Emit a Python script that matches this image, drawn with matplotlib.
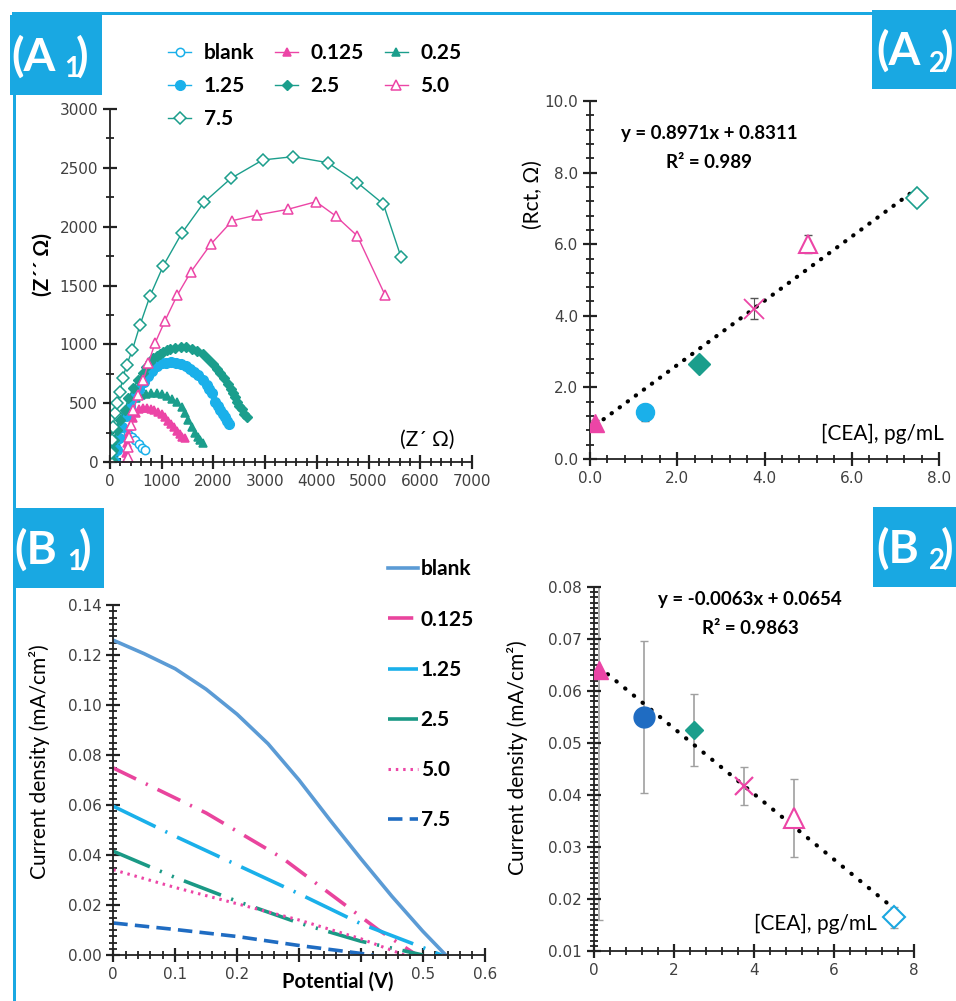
import matplotlib
matplotlib.use("Agg")
import matplotlib.pyplot as plt
from matplotlib.patches import Rectangle
import matplotlib.ticker as mticker
import numpy as np

plt.rcParams['font.family'] = ['Lato', 'DejaVu Sans']

W, H = 956, 1001

# ---------------- DATA ----------------
# (A1) Nyquist plots: Z' and Z'' (ohm)
blank_zr = [30, 60, 100, 150, 210, 280, 350, 420, 490, 560, 620, 680]
blank_zi = [30, 90, 150, 195, 225, 240, 235, 215, 185, 150, 120, 100]
c0125_zr = [290, 300, 320, 350, 390, 440, 500, 570, 644, 720, 790, 860, 930, 1000, 1060, 1120, 1180, 1240, 1300, 1350, 1400, 1450]
c0125_zi = [0, 80, 160, 240, 310, 370, 420, 450, 456, 455, 450, 440, 425, 405, 380, 350, 320, 295, 260, 235, 210, 200]
c025_zr = [60, 80, 110, 150, 200, 260, 330, 410, 500, 600, 700, 800, 903, 1000, 1100, 1200, 1290, 1390, 1450, 1515, 1580, 1645, 1700, 1741, 1792]
c025_zi = [0, 80, 170, 250, 330, 400, 460, 510, 545, 570, 582, 585, 584, 575, 560, 535, 510, 470, 415, 357, 300, 245, 210, 187, 164]
c125_zr = [100, 130, 170, 230, 300, 380, 470, 560, 650, 730, 806, 900, 1000, 1090, 1173, 1270, 1367, 1460, 1547, 1630, 1708, 1790, 1870, 1920, 1966, 2030, 2080, 2127, 2180, 2224, 2270, 2307]
c125_zi = [0, 100, 200, 300, 390, 470, 550, 620, 680, 730, 776, 815, 839, 845, 847, 843, 833, 815, 790, 765, 739, 700, 654, 620, 584, 513, 480, 442, 410, 380, 350, 320]
c25_zr = [32, 52, 77, 129, 193, 290, 354, 451, 540, 632, 700, 774, 840, 903, 967, 1031, 1095, 1160, 1260, 1367, 1470, 1579, 1690, 1805, 1900, 1998, 2060, 2127, 2200, 2288, 2340, 2385, 2420, 2449, 2500, 2546, 2600, 2643]
c25_zi = [17, 102, 187, 272, 357, 442, 541, 626, 700, 754, 810, 852, 880, 901, 920, 937, 950, 960, 970, 980, 975, 960, 940, 915, 875, 830, 790, 754, 710, 663, 620, 584, 550, 513, 480, 448, 410, 380]
c50_zr = [342, 354, 374, 400, 451, 548, 644, 741, 870, 1064, 1302, 1566, 1947, 2366, 2837, 3436, 3984, 4364, 4783, 5318]
c50_zi = [45, 130, 215, 314, 442, 569, 697, 839, 1009, 1201, 1419, 1617, 1850, 2051, 2099, 2147, 2212, 2091, 1921, 1419]
c75_zr = [0, 13, 32, 64, 97, 142, 193, 245, 322, 432, 580, 774, 1031, 1386, 1818, 2340, 2953, 3545, 4209, 4783, 5285, 5627]
c75_zi = [0, 74, 187, 300, 414, 499, 598, 711, 824, 952, 1164, 1411, 1668, 1943, 2207, 2411, 2567, 2595, 2544, 2374, 2193, 1742]

# (A2) Rct calibration
cea = [0.125, 1.25, 2.5, 3.75, 5.0, 7.5]
rct = [1.0, 1.3, 2.65, 4.2, 6.0, 7.3]
rct_err = [0.1, 0.25, 0.1, 0.3, 0.25, 0.1]
rct_slope, rct_icpt = 0.8971, 0.8311

# (B1) polarisation curves: potential (V) vs current density (mA/cm2)
blank_v = [0.0, 0.05, 0.1, 0.15, 0.2, 0.25, 0.3, 0.35, 0.4, 0.45, 0.5, 0.537]
blank_j = [0.1259, 0.1205, 0.1145, 0.1063, 0.0963, 0.0845, 0.0700, 0.0540, 0.0385, 0.0235, 0.0095, 0.0]
p0125_v = [0.0, 0.15, 0.273, 0.374, 0.428, 0.49]
p0125_j = [0.0748, 0.0568, 0.0388, 0.0201, 0.0101, 0.0]
p125_v = [0.0, 0.1, 0.2, 0.3, 0.4, 0.5, 0.53]
p125_j = [0.0595, 0.0475, 0.036, 0.0245, 0.0125, 0.003, 0.0]
p25_v = [0.0, 0.1, 0.2, 0.3, 0.4, 0.5]
p25_j = [0.0415, 0.031, 0.0215, 0.0128, 0.0055, 0.0]
p50_v = [0.0, 0.1, 0.2, 0.3, 0.4, 0.47]
p50_j = [0.0341, 0.027, 0.0205, 0.014, 0.0065, 0.0]
p75_v = [0.0, 0.1, 0.2, 0.3, 0.42]
p75_j = [0.0128, 0.0102, 0.0074, 0.0038, 0.0]

# (B2) current density calibration
jd = [0.064, 0.055, 0.0525, 0.0417, 0.0355, 0.0165]
jd_err = [0.048, 0.0146, 0.007, 0.0036, 0.0075, 0.002]
jd_slope, jd_icpt = -0.0063, 0.0654

# ---------------- STYLE ----------------
PINK = '#ec45a6'
TEAL = '#1b9e8c'
CYAN = '#1ab0ea'
BLUE_D = '#1f6cc2'
FRAME = '#19a8e2'
AXC = '#222222'

fig = plt.figure(figsize=(W / 100, H / 100), dpi=100)


def fx(x):
    return x / W


def fy(y):
    return 1 - y / H


def add_ax(l, t, r, b):
    ax = fig.add_axes([l / W, 1 - b / H, (r - l) / W, (b - t) / H])
    for s in ['top', 'right']:
        ax.spines[s].set_visible(False)
    for s in ['left', 'bottom']:
        ax.spines[s].set_color(AXC)
        ax.spines[s].set_linewidth(1.3)
    ax.tick_params(axis='both', which='major', direction='inout', length=10, width=1.6,
                   colors=AXC, labelsize=11, top=False, right=False)
    ax.tick_params(axis='both', which='minor', direction='inout', length=5.5, width=1.3,
                   colors=AXC, top=False, right=False)
    ax.tick_params(axis='both', which='major', labelcolor='#404040')
    return ax


def locs(ax, xmaj, xmin, ymaj, ymin):
    ax.xaxis.set_major_locator(mticker.MultipleLocator(xmaj))
    ax.xaxis.set_minor_locator(mticker.MultipleLocator(xmin))
    ax.yaxis.set_major_locator(mticker.MultipleLocator(ymaj))
    ax.yaxis.set_minor_locator(mticker.MultipleLocator(ymin))


def ftext(x, y, s, **kw):
    fig.text(fx(x), fy(y), s, **kw)


def frect(l, t, r, b, color):
    fig.patches.append(Rectangle((fx(l), fy(b)), (r - l) / W, (b - t) / H,
                                 transform=fig.transFigure, facecolor=color,
                                 edgecolor='none', figure=fig, zorder=-1))


# frame lines and panel label boxes
frect(12, 12, 873, 14.5, FRAME)
frect(13, 12, 15.5, 1001, FRAME)
panel_boxes = [(10, 15, 102, 95, 'A', '1', 11),
               (872, 10, 956, 89, 'A', '2', 876),
               (13, 508, 104, 588, 'B', '1', 14),
               (873, 507, 956, 587, 'B', '2', 876)]
for (l, t, r, b, letter, sub, tx) in panel_boxes:
    frect(l, t, r, b, FRAME)
    cy = (t + b) / 2 + 2
    ftext(tx, cy, '(' + letter, color='white', fontsize=33, fontweight='bold', va='center', ha='left')
    ftext(tx + 53, cy + 12, sub, color='white', fontsize=20, fontweight='bold', va='center', ha='left')
    ftext(tx + 65, cy, ')', color='white', fontsize=33, fontweight='bold', va='center', ha='left')

# ---------------- (A1) ----------------
ax1 = add_ax(110, 109, 472, 462)
locs(ax1, 1000, 200, 500, 250)
mk = dict(markersize=6, markeredgewidth=1.1, lw=1.0)
h_blank, = ax1.plot(blank_zr, blank_zi, color=CYAN, marker='o', mfc='white', label='blank', **mk)
h_0125, = ax1.plot(c0125_zr, c0125_zi, color=PINK, marker='^', label='0.125', **mk)
h_025, = ax1.plot(c025_zr, c025_zi, color=TEAL, marker='^', label='0.25', **mk)
h_125, = ax1.plot(c125_zr, c125_zi, color=CYAN, marker='o', label='1.25', markersize=7, lw=1.0)
h_25, = ax1.plot(c25_zr, c25_zi, color=TEAL, marker='D', label='2.5', markersize=5, lw=1.0)
h_50, = ax1.plot(c50_zr, c50_zi, color=PINK, marker='^', mfc='white', label='5.0', markersize=7, markeredgewidth=1.1, lw=1.0)
h_75, = ax1.plot(c75_zr, c75_zi, color=TEAL, marker='D', mfc='white', label='7.5', markersize=6, markeredgewidth=1.1, lw=1.0)
ax1.set_xlim(0, 7000)
ax1.set_ylim(0, 3000)
ax1.legend(handles=[h_blank, h_125, h_75, h_0125, h_25, h_025, h_50], ncol=3,
           loc='upper left', bbox_to_anchor=(fx(158), fy(33)), bbox_transform=fig.transFigure,
           frameon=False, prop={'family': 'Lato', 'weight': 'bold', 'size': 15},
           handlelength=1.1, handletextpad=0.6, columnspacing=1.0, labelspacing=0.62,
           borderpad=0)
ftext(43, 265, "(Z´´ Ω)", rotation=90, fontsize=15, fontweight='bold', ha='center', va='center')
ftext(427, 440, "(Z´ Ω)", fontsize=15, ha='center', va='center')

# ---------------- (A2) ----------------
ax2 = add_ax(590, 101, 939, 459)
locs(ax2, 2, 0.4, 2, 0.4)
ax2.xaxis.set_major_formatter(mticker.FormatStrFormatter('%.1f'))
ax2.yaxis.set_major_formatter(mticker.FormatStrFormatter('%.1f'))
xt = np.array([cea[0], 7.4])
ax2.plot(xt, rct_slope * xt + rct_icpt, color='black', lw=3, linestyle=(0, (0.1, 2.3)),
         dash_capstyle='round', zorder=2)
ax2.errorbar(cea, rct, yerr=rct_err, fmt='none', ecolor='#555555', elinewidth=0.8, capsize=3, zorder=1)
ax2.plot(cea[0], rct[0], marker='^', color=PINK, ms=13, ls='none', zorder=3)
ax2.plot(cea[1], rct[1], marker='o', color=CYAN, ms=13, ls='none', zorder=3)
ax2.plot(cea[2], rct[2], marker='D', color=TEAL, ms=11, ls='none', zorder=3)
ax2.plot(cea[3], rct[3], marker='x', color=PINK, ms=14, mew=1.3, ls='none', zorder=3)
ax2.plot(cea[4], rct[4], marker='^', color=PINK, mfc='white', ms=13, mew=1.5, ls='none', zorder=3)
ax2.plot(cea[5], rct[5], marker='D', color=TEAL, mfc='white', ms=11, mew=1.2, ls='none', zorder=3)
ax2.set_xlim(0, 8)
ax2.set_ylim(0, 10)
ftext(709, 133, "y = 0.8971x + 0.8311", fontsize=13.5, fontweight='bold', ha='center', va='center')
ftext(709, 162, "R² = 0.989", fontsize=13.5, fontweight='bold', ha='center', va='center')
ftext(533, 195, "(Rct, Ω)", rotation=90, fontsize=15, ha='center', va='center')
ftext(944, 434, "[CEA], pg/mL", fontsize=15, ha='right', va='center')

# ---------------- (B1) ----------------
ax3 = add_ax(113.3, 605, 484.7, 955)
locs(ax3, 0.1, 0.02, 0.02, 0.0025)
ax3.plot(blank_v, blank_j, color='#5b9bd5', lw=2.6, label='blank')
ax3.plot(p0125_v, p0125_j, color='#e9449d', lw=2.6, ls=(0, (7, 3, 0.6, 3)), label='0.125')
ax3.plot(p125_v, p125_j, color=CYAN, lw=2.6, ls=(0, (13, 3, 0.6, 3)), label='1.25')
ax3.plot(p25_v, p25_j, color='#1a9985', lw=2.6, ls=(0, (11, 3, 0.6, 3, 0.6, 3)), label='2.5')
ax3.plot(p50_v, p50_j, color='#ec45a6', lw=2.2, ls=(0, (0.8, 1.6)), label='5.0')
ax3.plot(p75_v, p75_j, color=BLUE_D, lw=2.6, ls=(0, (4, 2)), label='7.5')
ax3.set_xlim(0, 0.6)
ax3.set_ylim(0, 0.14)
ax3.xaxis.set_major_formatter(mticker.FuncFormatter(
    lambda v, p: '' if 0.25 < v < 0.45 else ('0' if abs(v) < 1e-9 else f'{v:.1f}')))
ax3.yaxis.set_major_formatter(mticker.FormatStrFormatter('%.2f'))
ax3.legend(loc='upper left', bbox_to_anchor=(fx(378), fy(549)), bbox_transform=fig.transFigure,
           frameon=False, prop={'family': 'Lato', 'weight': 'bold', 'size': 15},
           handlelength=1.4, handletextpad=0.15, labelspacing=1.45, borderpad=0)
ftext(338, 982, "Potential (V)", fontsize=14.5, fontweight='bold', ha='center', va='center')
ftext(40, 762, "Current density (mA/cm²)", rotation=90, fontsize=15, ha='center', va='center')

# ---------------- (B2) ----------------
ax4 = add_ax(594, 587, 914, 951)
locs(ax4, 2, 0.4, 0.01, 0.001)
ax4.yaxis.set_major_formatter(mticker.FormatStrFormatter('%.2f'))
xt2 = np.array([cea[0], 7.5])
ax4.plot(xt2, jd_slope * xt2 + jd_icpt, color='black', lw=3, linestyle=(0, (0.1, 2.6)),
         dash_capstyle='round', zorder=2)
ax4.errorbar(cea, jd, yerr=jd_err, fmt='none', ecolor='#a0a0a0', elinewidth=1.2, capsize=3, zorder=1)
ax4.plot(cea[0], jd[0], marker='^', color=PINK, ms=13, ls='none', zorder=3)
ax4.plot(cea[1], jd[1], marker='o', color=BLUE_D, ms=15, ls='none', zorder=3)
ax4.plot(cea[2], jd[2], marker='D', color=TEAL, ms=9, ls='none', zorder=3)
ax4.plot(cea[3], jd[3], marker='x', color=PINK, ms=13, mew=1.6, ls='none', zorder=3)
ax4.plot(cea[4], jd[4], marker='^', color=PINK, mfc='white', ms=14, mew=1.5, ls='none', zorder=3)
ax4.plot(cea[5], jd[5], marker='D', color='#1aa7e0', mfc='white', ms=11, mew=1.5, ls='none', zorder=3)
ax4.set_xlim(0, 8)
ax4.set_ylim(0.01, 0.08)
ftext(750, 599, "y = -0.0063x + 0.0654", fontsize=13.5, fontweight='bold', ha='center', va='center')
ftext(750, 628, "R² = 0.9863", fontsize=13.5, fontweight='bold', ha='center', va='center')
ftext(517, 758, "Current density (mA/cm²)", rotation=90, fontsize=15, ha='center', va='center')
ftext(877, 924, "[CEA], pg/mL", fontsize=15, ha='right', va='center')

for a in (ax1, ax2, ax3, ax4):
    for lab in a.get_xticklabels() + a.get_yticklabels():
        lab.set_fontfamily('DejaVu Sans')

fig.savefig('out.png', dpi=100)
